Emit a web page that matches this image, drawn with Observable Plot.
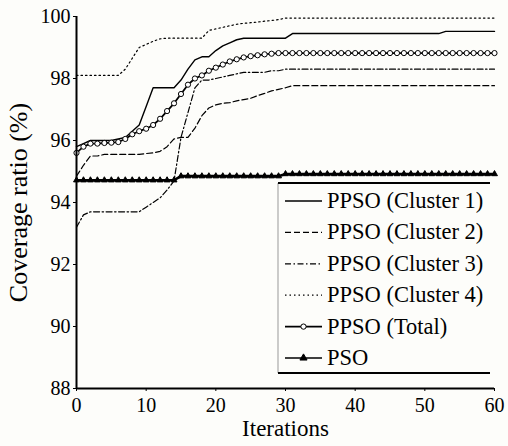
<!DOCTYPE html>
<html><head><meta charset="utf-8">
<script src="https://cdn.jsdelivr.net/npm/d3@7"></script>
<script src="https://cdn.jsdelivr.net/npm/@observablehq/plot@0.6"></script>
<style>
html,body{margin:0;padding:0;background:#fdfdfa;}
#chart{position:relative;width:508px;height:446px;}
#chart svg, #chart svg text{font-family:"Liberation Serif","Times New Roman",serif !important;}
</style>
</head><body><div id="chart"></div>
<script>
const iterations = [0,1,2,3,4,5,6,7,8,9,10,11,12,13,14,15,16,17,18,19,20,21,22,23,24,25,26,27,28,29,30,31,32,33,34,35,36,37,38,39,40,41,42,43,44,45,46,47,48,49,50,51,52,53,54,55,56,57,58,59,60];
const seriesNames = ["PPSO (Cluster 1)", "PPSO (Cluster 2)", "PPSO (Cluster 3)", "PPSO (Cluster 4)", "PPSO (Total)", "PSO"];
const cluster1 = [95.8,95.9,96.0,96.0,96.0,96.0,96.05,96.1,96.3,96.5,97.1,97.7,97.7,97.7,97.7,97.95,98.3,98.6,98.7,98.7,98.9,99.05,99.15,99.25,99.3,99.3,99.3,99.3,99.3,99.3,99.3,99.45,99.45,99.45,99.45,99.45,99.45,99.45,99.45,99.45,99.45,99.45,99.45,99.45,99.45,99.45,99.45,99.45,99.45,99.45,99.45,99.45,99.45,99.52,99.52,99.52,99.52,99.52,99.52,99.52,99.52];
const cluster2 = [94.85,95.2,95.5,95.5,95.55,95.55,95.55,95.55,95.55,95.55,95.58,95.6,95.65,95.8,96.05,96.1,96.1,96.4,96.8,97.05,97.15,97.2,97.22,97.28,97.32,97.36,97.45,97.52,97.6,97.65,97.7,97.77,97.77,97.77,97.77,97.77,97.77,97.77,97.77,97.77,97.77,97.77,97.77,97.77,97.77,97.77,97.77,97.77,97.77,97.77,97.77,97.77,97.77,97.77,97.77,97.77,97.77,97.77,97.77,97.77,97.77];
const cluster3 = [93.2,93.6,93.7,93.7,93.7,93.7,93.7,93.7,93.7,93.7,93.85,94.0,94.15,94.4,94.7,96.1,96.9,97.7,97.95,97.95,98.0,98.05,98.1,98.15,98.2,98.2,98.2,98.2,98.25,98.25,98.3,98.3,98.3,98.3,98.3,98.3,98.3,98.3,98.3,98.3,98.3,98.3,98.3,98.3,98.3,98.3,98.3,98.3,98.3,98.3,98.3,98.3,98.3,98.3,98.3,98.3,98.3,98.3,98.3,98.3,98.3];
const cluster4 = [98.1,98.1,98.1,98.1,98.1,98.1,98.1,98.3,98.65,99.0,99.1,99.2,99.28,99.3,99.3,99.3,99.3,99.3,99.3,99.55,99.6,99.65,99.7,99.75,99.78,99.8,99.82,99.85,99.87,99.9,99.95,99.95,99.95,99.95,99.95,99.95,99.95,99.95,99.95,99.95,99.95,99.95,99.95,99.95,99.95,99.95,99.95,99.95,99.95,99.95,99.95,99.95,99.95,99.95,99.95,99.95,99.95,99.95,99.95,99.95,99.95];
const total = [95.6,95.8,95.9,95.9,95.92,95.93,95.95,96.05,96.2,96.3,96.38,96.5,96.7,96.95,97.2,97.5,97.8,98.0,98.1,98.25,98.35,98.45,98.55,98.62,98.68,98.72,98.75,98.78,98.8,98.82,98.82,98.82,98.82,98.82,98.82,98.82,98.82,98.82,98.82,98.82,98.82,98.82,98.82,98.82,98.82,98.82,98.82,98.82,98.82,98.82,98.82,98.82,98.82,98.82,98.82,98.82,98.82,98.82,98.82,98.82,98.82];
const pso = [94.72,94.72,94.72,94.72,94.72,94.72,94.72,94.72,94.72,94.72,94.72,94.72,94.72,94.72,94.72,94.85,94.85,94.85,94.85,94.85,94.85,94.85,94.85,94.85,94.85,94.85,94.85,94.85,94.85,94.85,94.92,94.92,94.92,94.92,94.92,94.92,94.92,94.92,94.92,94.92,94.92,94.92,94.92,94.92,94.92,94.92,94.92,94.92,94.92,94.92,94.92,94.92,94.92,94.92,94.92,94.92,94.92,94.92,94.92,94.92,94.92];
const xTicks = [0,10,20,30,40,50,60];
const yTicks = [88,90,92,94,96,98,100];
const xLabel = "Iterations";
const yLabel = "Coverage ratio (%)";

const seriesValues = [cluster1, cluster2, cluster3, cluster4, total, pso];
const styles = [
  {dash: null, width: 1.4, symbol: null},
  {dash: "6,3", width: 1.2, symbol: null},
  {dash: "6,2.5,1.5,2.5", width: 1.2, symbol: null},
  {dash: "1.5,3", width: 1.2, symbol: null},
  {dash: null, width: 1.8, symbol: "circle"},
  {dash: null, width: 2.6, symbol: "triangle"}
];
const rows = seriesNames.map((name, k) => iterations.map((it, i) => ({series: name, x: it, y: seriesValues[k][i]})));

const marks = [];
rows.forEach((data, k) => {
  const st = styles[k];
  marks.push(Plot.line(data, {x: "x", y: "y", stroke: "black", strokeWidth: st.width, strokeDasharray: st.dash}));
});
marks.push(Plot.dot(rows[4], {x: "x", y: "y", symbol: "circle", r: 2.6, stroke: "black", strokeWidth: 1, fill: "white"}));
marks.push(Plot.dot(rows[5], {x: "x", y: "y", symbol: "triangle", r: 2.2, stroke: "black", strokeWidth: 1, fill: "black"}));

const chart = Plot.plot({
  width: 508, height: 446,
  marginLeft: 76, marginRight: 14, marginTop: 16, marginBottom: 58,
  style: {fontFamily: "Liberation Serif", fontSize: "20px", background: "transparent", color: "black"},
  x: {domain: [0, 60]},
  y: {domain: [88, 100]},
  marks: [
    Plot.axisX({ticks: xTicks, tickSize: 3, tickPadding: 6, label: null, tickFormat: d => String(d)}),
    Plot.axisY({ticks: yTicks, tickSize: 3, tickPadding: 3, label: null, tickFormat: d => String(d)}),
    ...marks,
    Plot.ruleX([0], {stroke: "black", strokeWidth: 2}),
    Plot.ruleY([88], {stroke: "black", strokeWidth: 2}),
    Plot.text([xLabel], {frameAnchor: "bottom", dy: 47, fontSize: 23, fill: "black"}),
    Plot.text([yLabel], {frameAnchor: "left", textAnchor: "middle", rotate: -90, dx: -58, fontSize: 26, fill: "black"})
  ]
});
document.getElementById("chart").appendChild(chart);

// Legend
const svg = d3.select(chart);
const lg = svg.append("g").attr("class", "legend");
const bx0 = 278, bx1 = 490, by0 = 183, by1 = 373;
lg.append("rect").attr("x", bx0).attr("y", by0).attr("width", bx1 - bx0).attr("height", by1 - by0).attr("fill", "#fdfdfa").attr("stroke", "none");
lg.append("line").attr("x1", bx0).attr("x2", bx0).attr("y1", by0).attr("y2", by1).attr("stroke", "#999").attr("stroke-width", 1);
lg.append("line").attr("x1", bx0).attr("x2", bx1).attr("y1", by0).attr("y2", by0).attr("stroke", "black").attr("stroke-width", 2);
lg.append("line").attr("x1", bx0).attr("x2", bx1).attr("y1", by1).attr("y2", by1).attr("stroke", "black").attr("stroke-width", 2);
seriesNames.forEach((name, k) => {
  const cy = 201 + k * 31.4;
  const st = styles[k];
  lg.append("line").attr("x1", 285).attr("x2", 322).attr("y1", cy).attr("y2", cy)
    .attr("stroke", "black").attr("stroke-width", Math.min(st.width, 1.6)).attr("stroke-dasharray", st.dash);
  if (st.symbol) {
    const sym = d3.symbol(st.symbol === "circle" ? d3.symbolCircle : d3.symbolTriangle, 22);
    lg.append("path").attr("d", sym()).attr("transform", `translate(303.5,${cy})`)
      .attr("fill", st.symbol === "circle" ? "white" : "black").attr("stroke", "black").attr("stroke-width", 1);
  }
  lg.append("text").attr("x", 327).attr("y", cy + 7).attr("font-size", 22.5)
    .attr("text-anchor", "start").attr("fill", "black").text(name);
});
</script>
</body></html>
